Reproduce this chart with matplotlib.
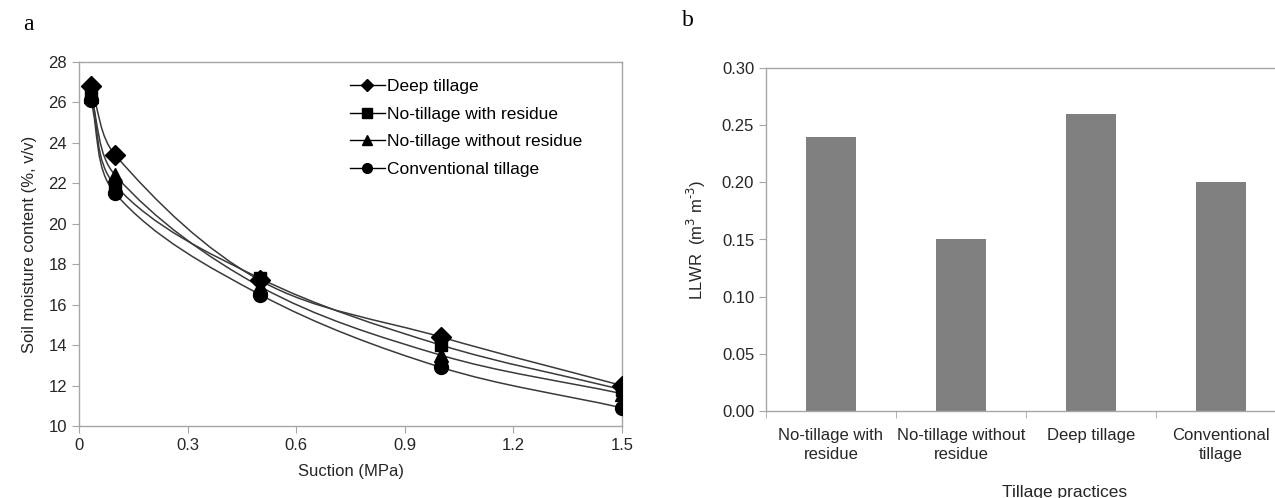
import numpy as np
import matplotlib
matplotlib.use("Agg")
import matplotlib.pyplot as plt
from matplotlib.path import Path
from matplotlib.patches import PathPatch
from matplotlib.lines import Line2D

plt.rcParams["font.family"] = ["Liberation Sans Narrow", "Liberation Sans", "DejaVu Sans"]

# ---------------------------------------------------------------------------
# data
# ---------------------------------------------------------------------------
suction = [0.033, 0.1, 0.5, 1.0, 1.5]
deep_tillage = [26.8, 23.4, 17.2, 14.4, 12.0]
notill_residue = [26.5, 21.9, 17.3, 14.0, 11.8]
notill_no_residue = [26.3, 22.4, 16.9, 13.5, 11.6]
conventional = [26.1, 21.5, 16.5, 12.9, 10.9]

series_names = ["Deep tillage", "No-tillage with residue",
                "No-tillage without residue", "Conventional tillage"]
series_markers = ["D", "s", "^", "o"]

x_ticks = [0, 0.3, 0.6, 0.9, 1.2, 1.5]
x_ticklabels = ["0", "0.3", "0.6", "0.9", "1.2", "1.5"]
y_ticks = [10, 12, 14, 16, 18, 20, 22, 24, 26, 28]

practices = ["No-tillage with\nresidue", "No-tillage without\nresidue",
             "Deep tillage", "Conventional\ntillage"]
llwr = [0.24, 0.15, 0.26, 0.20]
llwr_ticks = [0.00, 0.05, 0.10, 0.15, 0.20, 0.25, 0.30]

SPINE = "#a6a6a6"
TXT = "#262626"


def smooth_path(xs, ys, sx, sy):
    """Excel-like smoothed line through the points as cubic Bezier segments
    (tangent from neighbours, handle = 1/3 of the segment length)."""
    P = np.column_stack([np.asarray(xs) * sx, np.asarray(ys) * sy])
    n = len(P)
    d = np.zeros_like(P)
    for i in range(n):
        a = P[max(i - 1, 0)]
        b = P[min(i + 1, n - 1)]
        v = b - a
        d[i] = v / np.hypot(*v)
    verts = [P[0]]
    codes = [Path.MOVETO]
    for i in range(n - 1):
        L = np.hypot(*(P[i + 1] - P[i]))
        verts += [P[i] + d[i] * L / 3, P[i + 1] - d[i + 1] * L / 3, P[i + 1]]
        codes += [Path.CURVE4] * 3
    verts = np.array(verts)
    verts[:, 0] /= sx
    verts[:, 1] /= sy
    return Path(verts, codes)


fig = plt.figure(figsize=(12.75, 4.98), dpi=100)

# ---------------------------------------------------------------------------
# panel a: water retention curves
# ---------------------------------------------------------------------------
ax1 = fig.add_axes([79 / 1275, 1 - 426 / 498, 543 / 1275, 364 / 498])
series = [deep_tillage, notill_residue, notill_no_residue, conventional]
msizes = [10, 9, 10, 10]
for ys, mk, ms in zip(series, series_markers, msizes):
    path = smooth_path(suction, ys, 362.0, 20.2)
    ax1.add_patch(PathPatch(path, facecolor="none", edgecolor="#3a3a3a", lw=1.1, zorder=2))
    ax1.plot(suction, ys, ls="none", marker=mk, ms=ms, color="black", zorder=3)

ax1.set_xlim(0, 1.5)
ax1.set_ylim(10, 28)
ax1.set_xticks(x_ticks)
ax1.set_xticklabels(x_ticklabels)
ax1.set_yticks(y_ticks)
ax1.set_xlabel("Suction (MPa)", fontsize=12, color=TXT, labelpad=8)
ax1.set_ylabel("Soil moisture content (%, v/v)", fontsize=12, color=TXT, labelpad=8)

handles = [Line2D([], [], color="black", lw=1, marker=mk, ms=s)
           for mk, s in zip(series_markers, [6, 7, 7, 7])]
ax1.legend(handles, series_names, loc="upper left", bbox_to_anchor=(350 / 1275, 1 - 79 / 498),
           bbox_transform=fig.transFigure, frameon=False, fontsize=12.5,
           handlelength=2.0, handletextpad=0.15, labelspacing=0.72, borderpad=0,
           borderaxespad=0)

# ---------------------------------------------------------------------------
# panel b: LLWR bars
# ---------------------------------------------------------------------------
ax2 = fig.add_axes([766 / 1275, 1 - 411 / 498, 520 / 1275, 343 / 498])
xpos = np.arange(len(practices))
ax2.bar(xpos, llwr, width=0.39, color="#808080", zorder=2)
ax2.set_xlim(-0.5, len(practices) - 0.5)
ax2.set_ylim(0, 0.30)
ax2.set_yticks(llwr_ticks)
ax2.set_yticklabels([f"{v:.2f}" for v in llwr_ticks])
ax2.set_xticks(xpos)
ax2.set_xticklabels(practices, linespacing=1.4)
ax2.set_xticks(np.arange(-0.5, len(practices), 1.0), minor=True)
ax2.tick_params(axis="x", which="major", length=0, pad=12)
ax2.tick_params(axis="x", which="minor", length=5, direction="out", color=SPINE)
ax2.set_ylabel("LLWR  (m$^3$ m$^{\\text{-}3}$)", fontsize=12, color=TXT, labelpad=10)
fig.text(1065 / 1275, 1 - 492 / 498, "Tillage practices", fontsize=12.5, color=TXT,
         ha="center", va="center")

for ax in (ax1, ax2):
    for sp in ax.spines.values():
        sp.set_color(SPINE)
        sp.set_linewidth(1.0)
    ax.tick_params(axis="both", which="major", labelsize=12, labelcolor=TXT,
                   color=SPINE, direction="out")
ax1.tick_params(axis="both", length=5)
ax2.tick_params(axis="y", length=5)

fig.text(28 / 1275, 1 - 24 / 498, "a", fontsize=17, family=["Liberation Serif", "DejaVu Serif"],
         ha="center", va="center")
fig.text(688 / 1275, 1 - 20 / 498, "b", fontsize=17, family=["Liberation Serif", "DejaVu Serif"],
         ha="center", va="center")

fig.savefig("out.png", dpi=100)
